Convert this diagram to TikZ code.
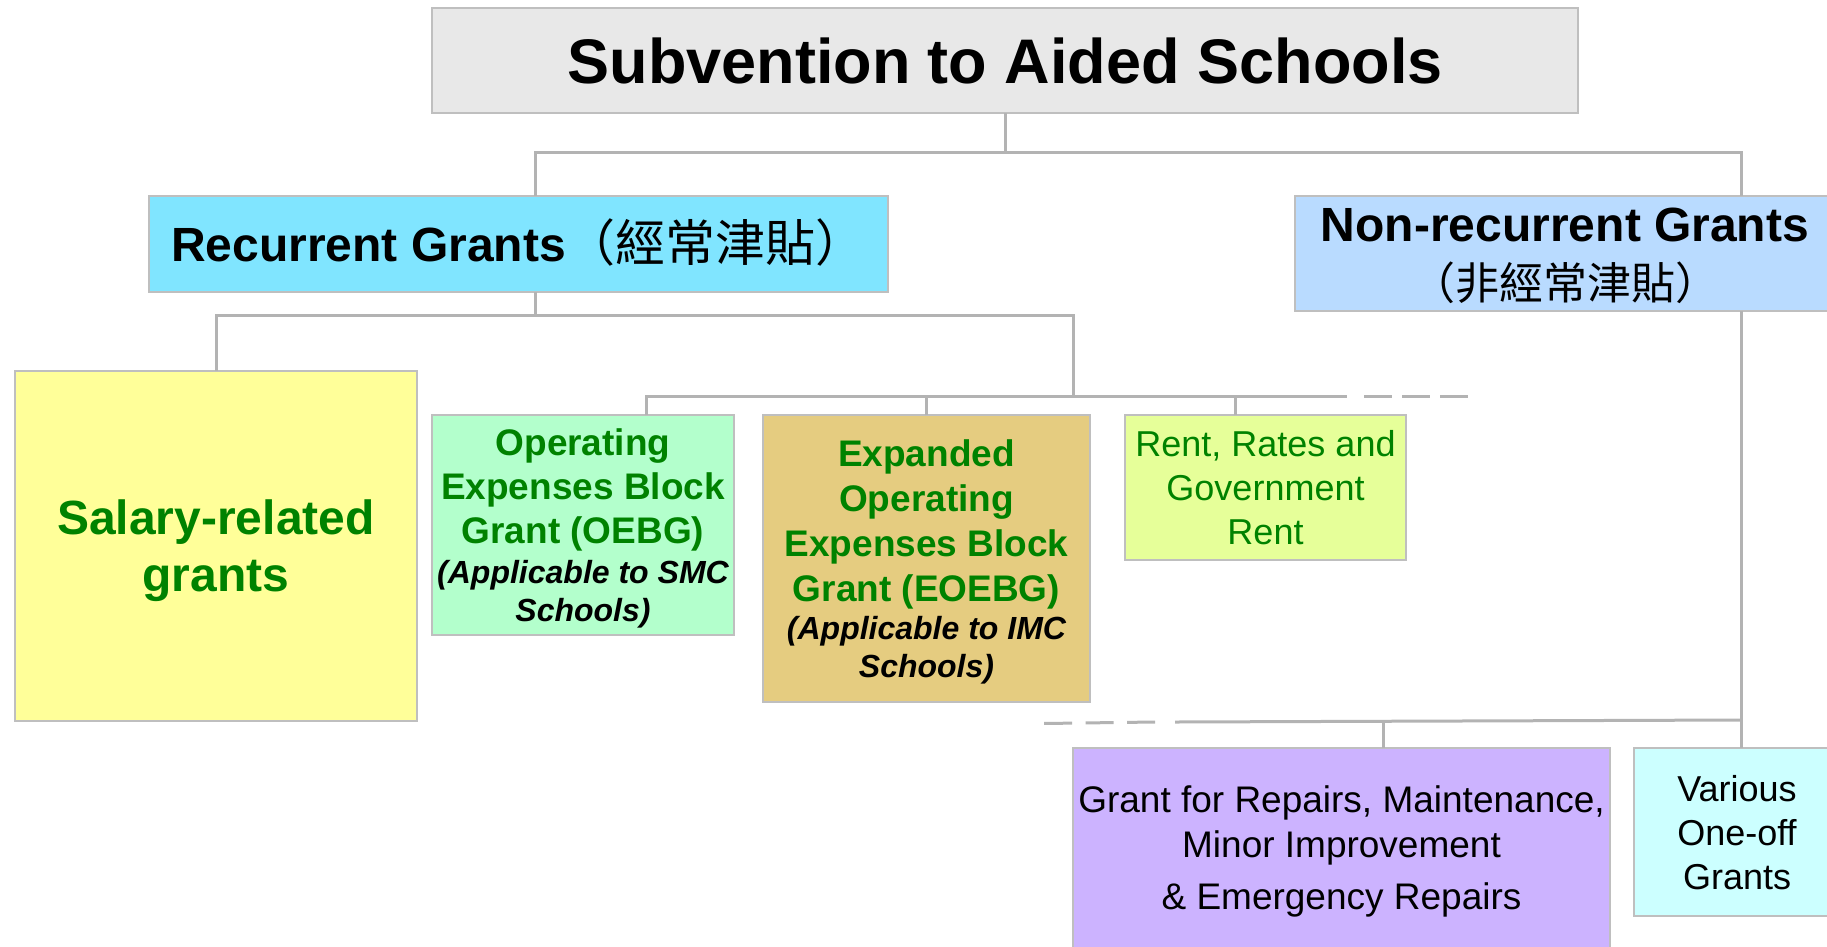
\documentclass[tikz,border=0pt]{standalone}
\usepackage{fontspec}
\setmainfont{Liberation Sans}
\newfontfamily\cjk{Noto Sans CJK TC}
\usepackage{tikz}
\usetikzlibrary{positioning}
\definecolor{boxline}{HTML}{BFBFBF}
\definecolor{linkgray}{HTML}{B3B3B3}
\definecolor{textgreen}{HTML}{008200}
\definecolor{titlefill}{HTML}{E8E8E8}
\definecolor{recfill}{HTML}{80E5FF}
\definecolor{nonrecfill}{HTML}{B9DBFF}
\definecolor{salfill}{HTML}{FFFF99}
\definecolor{oebgfill}{HTML}{B3FFCC}
\definecolor{eoebgfill}{HTML}{E5CC80}
\definecolor{rentfill}{HTML}{E6FF99}
\definecolor{repfill}{HTML}{CCB3FF}
\definecolor{varfill}{HTML}{CCFFFF}
\tikzset{grantbox/.style={rectangle, draw=boxline, line width=2pt, inner sep=0pt, outer sep=0pt, align=flush center},
  link/.style={draw=linkgray, line width=3pt}}

\begin{document}
\begin{tikzpicture}[x=1pt, y=1pt]
    \useasboundingbox (0,0) rectangle (1827,-946);%page frame
    \clip (0,0) rectangle (1827,-946);%boxes run off the page edge
    \node (title) [grantbox, fill=titlefill, text width=1146pt, text depth=0pt, minimum height=105pt, font=\fontsize{63}{70}\selectfont\bfseries] at (1005,-60.5){Subvention to Aided Schools};%top box
    \node (rec) [grantbox, fill=recfill, text width=739pt, text height=34pt, text depth=0pt, minimum height=96pt, font=\fontsize{48}{58}\selectfont\bfseries, below=83pt of title.south, xshift=-486.5pt]{Recurrent Grants{\cjk\mdseries\fontsize{50}{58}\selectfont （經常津貼）}};%recurrent branch
    \node (nonrec) [grantbox, fill=nonrecfill, text width=540pt, text depth=58pt, minimum height=115pt, font=\fontsize{48}{58}\selectfont\bfseries, right=407pt of rec.north east, anchor=north west]{Non-recurrent Grants\\{\cjk\mdseries\fontsize{44}{58}\selectfont （非經常津貼）}};%non-recurrent branch
    \node (sal) [grantbox, fill=salfill, text=textgreen, text width=402pt, text depth=57pt, minimum height=350pt, font=\fontsize{48}{57}\selectfont\bfseries, below=79pt of rec.south west, anchor=north west, xshift=-134pt]{Salary-related\\grants};%salary box
    \node (oebg) [grantbox, fill=oebgfill, text=textgreen, text width=302pt, text depth=166pt, minimum height=220pt, font=\fontsize{37}{44}\selectfont\bfseries, right=15pt of sal.north east, anchor=north west, yshift=-44pt]{Operating\\Expenses Block\\Grant (OEBG)\\[2pt]\color{black}\itshape\fontsize{32}{38}\selectfont(Applicable to SMC\\Schools)\par};%OEBG box
    \node (eoebg) [grantbox, fill=eoebgfill, text=textgreen, text width=327pt, text depth=211pt, minimum height=287pt, font=\fontsize{37}{45}\selectfont\bfseries, right=29pt of oebg.north east, anchor=north west]{Expanded\\Operating\\Expenses Block\\Grant (EOEBG)\\\color{black}\itshape\fontsize{32}{38}\selectfont(Applicable to IMC\\Schools)\par};%EOEBG box
    \node (rent) [grantbox, fill=rentfill, text=textgreen, text width=281pt, text depth=88pt, minimum height=145pt, font=\fontsize{36}{44}\selectfont, right=35pt of eoebg.north east, anchor=north west]{Rent, Rates and\\Government\\Rent};%rent box
    \node (rep) [grantbox, fill=repfill, text width=537pt, text depth=97pt, minimum height=200pt, font=\fontsize{37}{45}\selectfont, below=46pt of eoebg.south east, anchor=north west, xshift=-17pt]{Grant for Repairs, Maintenance,\\Minor Improvement\\[7pt]\& Emergency Repairs};%repairs box
    \node (var) [grantbox, fill=varfill, text width=206pt, text depth=88pt, minimum height=168pt, font=\fontsize{36}{44}\selectfont, right=24pt of rep.north east, anchor=north west]{Various\\One-off\\Grants};%one-off box
    \draw[link] (title.south) -- ++(0,-39) coordinate (tbus);%down from top box
    \draw[link] (tbus) -| ([xshift=16.5pt]rec.north);%to recurrent
    \draw[link] (tbus) -| ([xshift=176pt]nonrec.north);%to non-recurrent
    \draw[link] ([xshift=17pt]rec.south) -- ++(0,-23) coordinate (rbus);%down from recurrent
    \draw[link] (rbus) -| (sal.north);%to salary
    \draw[link] (rbus) -| ++(537.5,-81) coordinate (obus);%to the lower bus
    \draw[link] ([xshift=63pt]oebg.north) |- (obus) -- ++(274,0) coordinate (oend);%lower bus
    \draw[link] (eoebg.north) -- (eoebg.north |- obus);%to EOEBG
    \draw[link] ([xshift=-30.5pt]rent.north) -- ++(0,19);%to rent
    \draw[link, dash pattern=on 28pt off 10pt] ([xshift=17pt]oend) -- ++(104,0);%more to come
    \draw[link] ([xshift=176pt]nonrec.south) -- ([xshift=4pt]var.north);%down from non-recurrent
    \draw[link] ([xshift=4pt, yshift=28pt]var.north) coordinate (nbus) -- ++(-566,-2) coordinate (nend);%bottom bus
    \draw[link] ([xshift=41.5pt]rep.north) -- ++(0,27);%to repairs
    \draw[link, dash pattern=on 28pt off 13.5pt] ([xshift=-20pt]nend) -- ++(-112,-1.5);%more to come
\end{tikzpicture}
\end{document}
